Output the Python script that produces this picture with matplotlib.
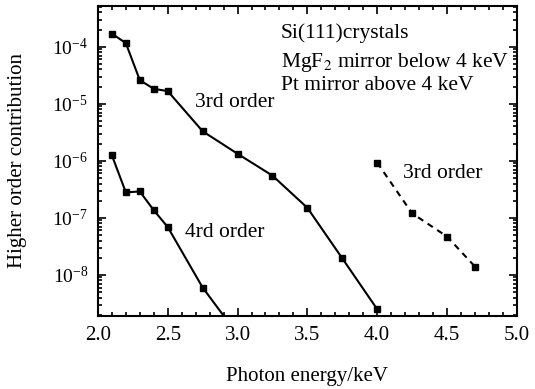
import matplotlib.pyplot as plt
from matplotlib.ticker import MultipleLocator, LogLocator, NullFormatter

# third order, MgF2 mirror (below 4 keV)
energy_3rd_mgf2 = [2.1, 2.2, 2.3, 2.4, 2.5, 2.75, 3.0, 3.25, 3.5, 3.75, 4.0]
contrib_3rd_mgf2 = [1.7e-4, 1.16e-4, 2.6e-5, 1.83e-5, 1.67e-5, 3.3e-6,
                    1.33e-6, 5.5e-7, 1.5e-7, 1.95e-8, 2.5e-9]

# fourth order, MgF2 mirror
energy_4th = [2.1, 2.2, 2.3, 2.4, 2.5, 2.75, 3.0]
contrib_4th = [1.25e-6, 2.8e-7, 2.9e-7, 1.36e-7, 6.9e-8, 6.0e-9, 9e-10]

# third order, Pt mirror (above 4 keV)
energy_3rd_pt = [4.0, 4.25, 4.5, 4.7]
contrib_3rd_pt = [9.3e-7, 1.2e-7, 4.7e-8, 1.4e-8]

plt.rcParams["font.family"] = ["Liberation Serif", "DejaVu Serif"]
plt.rcParams["mathtext.fontset"] = "stix"

fig = plt.figure(figsize=(5.35, 3.89), dpi=100)
ax = fig.add_axes([0.183, 0.1877, 0.783, 0.797])

style = dict(color="black", marker="s", markersize=5, linewidth=1.5)
ax.plot(energy_3rd_mgf2, contrib_3rd_mgf2, linestyle="-", **style)
ax.plot(energy_4th, contrib_4th, linestyle="-", **style)
ax.plot(energy_3rd_pt, contrib_3rd_pt, linestyle=(0, (3, 2.5)), **style)

ax.set_yscale("log")
ax.set_xlim(2.0, 5.0)
ax.set_ylim(1.9e-9, 5.2e-4)

ax.xaxis.set_major_locator(MultipleLocator(0.5))
ax.xaxis.set_minor_locator(MultipleLocator(0.1))
ax.xaxis.set_major_formatter(plt.FormatStrFormatter("%.1f"))
ax.yaxis.set_major_locator(LogLocator(base=10, numticks=20))
ax.yaxis.set_minor_locator(LogLocator(base=10, subs=range(2, 10), numticks=20))
ax.yaxis.set_minor_formatter(NullFormatter())

ax.tick_params(which="both", direction="in", top=True, right=True, width=1.2)
ax.tick_params(which="major", length=6, pad=7)
ax.tick_params(which="minor", length=3)
ax.tick_params(axis="x", labelsize=15)
ax.tick_params(axis="y", labelsize=14)
for spine in ax.spines.values():
    spine.set_linewidth(1.5)

ax.set_xlabel("Photon energy/keV", fontsize=15, labelpad=16)
ax.set_ylabel("Higher order contribution", fontsize=15, labelpad=18)

ax.text(0.437, 0.913, "Si(111)crystals", transform=ax.transAxes,
        fontsize=15.5, va="center")
ax.text(0.437, 0.816, "MgF$_2$ mirror below 4 keV", transform=ax.transAxes,
        fontsize=15.5, va="center")
ax.text(0.437, 0.742, "Pt mirror above 4 keV", transform=ax.transAxes,
        fontsize=15.5, va="center")
ax.text(0.2315, 0.687, "3rd order", transform=ax.transAxes,
        fontsize=15.5, va="center")
ax.text(0.208, 0.269, "4rd order", transform=ax.transAxes,
        fontsize=15.5, va="center")
ax.text(0.729, 0.46, "3rd order", transform=ax.transAxes,
        fontsize=15.5, va="center")

fig.savefig("out.png", dpi=100)
